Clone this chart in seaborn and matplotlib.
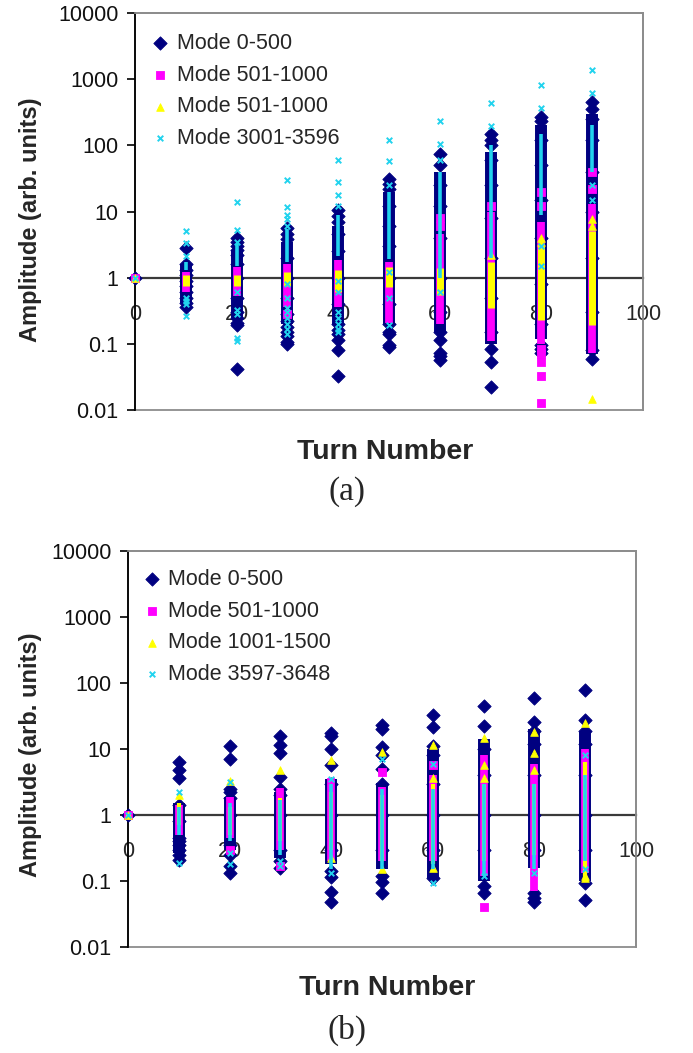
import matplotlib
matplotlib.use("Agg")
import matplotlib.pyplot as plt
import seaborn as sns
from matplotlib.patches import Rectangle
from matplotlib.ticker import NullLocator

sns.set_style("white")
plt.rcParams["font.family"] = ["Liberation Sans", "DejaVu Sans"]

# ---------------- data ----------------
turns = [0, 10, 20, 30, 40, 50, 60, 70, 80, 90]
x_ticks = [0, 20, 40, 60, 80, 100]
y_ticks = [0.01, 0.1, 1, 10, 100, 1000, 10000]
y_tick_labels = ["0.01", "0.1", "1", "10", "100", "1000", "10000"]

labels_a = ["Mode 0-500", "Mode 501-1000", "Mode 501-1000", "Mode 3001-3596"]
labels_b = ["Mode 0-500", "Mode 501-1000", "Mode 1001-1500", "Mode 3597-3648"]

# panel (a): dense ranges (lo/hi) and individually visible points per turn
a_navy_lo = [1, 0.42, 0.25, 0.2, 0.2, 0.2, 0.15, 0.1, 0.12, 0.07]
a_navy_hi = [1, 1.6, 2.6, 3.5, 6, 20, 40, 80, 200, 300]
a_navy_pts = [[1],
              [0.36, 0.42, 0.5, 0.6, 0.75, 0.9, 1.1, 1.3, 1.6, 2.85],
              [0.042, 0.19, 0.21, 0.25, 0.3, 0.5, 1.0, 1.6, 2.2, 2.6, 3.0, 3.5, 4.0],
              [0.1, 0.105, 0.13, 0.15, 0.18, 0.22, 0.28, 0.5, 1.0, 2.0, 3.8, 4.5, 5.7],
              [0.033, 0.081, 0.115, 0.14, 0.16, 0.2, 0.4, 1.0, 2.5, 4.5, 7, 8.5, 10.7],
              [0.09, 0.095, 0.14, 0.15, 0.2, 0.4, 1.0, 3.0, 6.0, 12, 22, 26, 31.5],
              [0.057, 0.065, 0.073, 0.115, 0.15, 0.3, 1.0, 4.0, 12, 25, 50, 73],
              [0.022, 0.053, 0.084, 0.15, 0.5, 2.0, 8.0, 25, 60, 100, 120, 146],
              [0.073, 0.085, 0.097, 0.2, 0.8, 4.0, 15, 50, 120, 230, 265],
              [0.059, 0.08, 0.3, 2.0, 10, 40, 120, 250, 350, 450]]

a_mag_lo = [1, 0.6, 0.52, 0.36, 0.36, 0.21, 0.2, 0.11, 0.1, 0.073]
a_mag_hi = [1, 1.2, 1.47, 1.6, 1.87, 1.7, 4.5, 10, 7, 13]
a_mag_pts = [[1], [], [], [0.28], [], [], [6, 8], [12],
             [0.0128, 0.033, 0.053, 0.07, 0.085, 12, 20], [22, 39]]

a_yel_lo = [1, 0.75, 0.75, 0.75, 0.6, 0.73, 0.55, 0.35, 0.23, 0.19]
a_yel_hi = [1, 1.1, 1.1, 1.2, 1.3, 1.47, 1.4, 1.7, 3, 5]
a_yel_pts = [[1], [], [], [], [], [], [], [2.2], [3.5, 4], [0.0147, 6, 7.6]]

a_cyan_lo = [1, 1.3, 1.5, 1.7, 2.1, 1.9, 1.0, 2.0, 9, 40]
a_cyan_hi = [1, 1.7, 3.2, 5.5, 9, 20, 40, 100, 150, 200]
a_cyan_pts = [[1],
              [0.26, 0.4, 0.45, 0.5, 2.1, 3.4, 5.0],
              [0.11, 0.123, 0.28, 0.32, 0.6, 3.5, 5.3, 13.7],
              [0.14, 0.17, 0.2, 0.25, 0.3, 0.35, 0.5, 0.8, 6, 7.6, 9, 11.9, 29.5],
              [0.15, 0.17, 0.2, 0.25, 0.3, 0.6, 0.9, 12.3, 17.5, 27.5, 61],
              [0.19, 0.5, 1.2, 25, 57, 119],
              [0.6, 60, 103, 231],
              [194, 433],
              [1.5, 3, 363, 811],
              [15, 25, 612, 1370]]

# panel (b)
b_navy_lo = [1, 0.27, 0.3, 0.22, 0.18, 0.15, 0.11, 0.1, 0.16, 0.1]
b_navy_hi = [1, 1.5, 1.9, 2.2, 3.5, 3.1, 10, 14, 20, 18]
b_navy_pts = [[1],
              [0.21, 0.25, 0.3, 0.35, 0.4, 0.45, 0.8, 1.4, 3.6, 4.8, 6.4],
              [0.13, 0.17, 0.25, 0.35, 1.0, 1.8, 2.2, 2.5, 7, 11],
              [0.16, 0.2, 0.3, 1.0, 2.0, 2.5, 3.8, 8.7, 11.5, 15.7],
              [0.048, 0.068, 0.115, 0.14, 0.3, 1.0, 3.0, 5.8, 10, 16, 17.5],
              [0.066, 0.096, 0.12, 0.3, 1.0, 3.0, 5, 8.1, 10.7, 20, 23],
              [0.11, 0.3, 1.0, 3.0, 8, 11, 21.6, 32.7],
              [0.066, 0.085, 0.3, 1.0, 4.0, 10, 22, 45],
              [0.048, 0.055, 0.066, 0.3, 1.0, 4.0, 12, 19, 25.6, 59],
              [0.052, 0.093, 0.3, 1.0, 4.0, 12, 19, 27.5, 78]]

b_mag_lo = [1, 0.5, 0.45, 0.3, 0.2, 0.2, 0.2, 0.12, 0.07, 0.13]
b_mag_hi = [1, 1.4, 1.9, 2.6, 3.6, 2.7, 4, 8, 6, 10]
b_mag_pts = [[1], [], [0.3], [0.17], [], [4.5], [5.7], [0.04], [], []]

b_yel_lo = [1, 0.7, 0.5, 0.4, 0.3, 0.2, 0.18, 0.2, 0.25, 0.11]
b_yel_hi = [1, 1.5, 1.3, 1.8, 2.2, 2, 3, 3, 3, 6.4]
b_yel_pts = [[1], [2.0], [3.3], [4.8], [0.22, 6.8], [0.15, 9], [0.16, 3.6, 11.5],
             [3.6, 5.7, 14.6], [4.8, 8.7, 18], [0.11, 0.12, 24.8]]

b_cyan_lo = [1, 0.5, 0.4, 0.25, 0.15, 0.15, 0.15, 0.12, 0.15, 0.2]
b_cyan_hi = [1, 1.3, 1.5, 1.7, 3, 2.5, 2.5, 3, 3, 4]
b_cyan_pts = [[1], [0.19, 2.2], [0.18, 0.27, 3.2], [0.17, 0.2], [0.13, 3.5], [7],
              [0.094, 6], [0.12], [0.13], [0.15, 8]]

# ---------------- styling ----------------
NAVY, MAG, YEL, CYAN = "#000080", "#FF00FF", "#FFFF00", "#22D3EE"
FS = 15.5


def flat(pts):
    xs = [t for t, p in zip(turns, pts) for _ in p]
    ys = [v for p in pts for v in p]
    return xs, ys


def draw_panel(ax, series, labels, leg_anchor, yel_band_w):
    styles = [
        dict(color=NAVY, marker="D", s=46, band=8.6),
        dict(color=MAG, marker="s", s=36, band=5.6),
        dict(color=YEL, marker="^", s=30, band=yel_band_w),
        dict(color=CYAN, marker="x", s=16, band=2.6),
    ]
    for i, ((lo, hi, pts), st, lab) in enumerate(zip(series, styles, labels)):
        z = 3 + 2 * i
        ax.vlines(turns, lo, hi, colors=st["color"], linewidth=st["band"], zorder=z)
        xs, ys = flat(pts)
        if st["marker"] == "x":
            sns.scatterplot(x=xs, y=ys, ax=ax, marker="x", s=st["s"], color=st["color"],
                            linewidth=1.4, label=lab, zorder=z + 1, clip_on=False)
        else:
            sns.scatterplot(x=xs, y=ys, ax=ax, marker=st["marker"], s=st["s"],
                            color=st["color"], edgecolor=st["color"], linewidth=0.6,
                            label=lab, zorder=z + 1, clip_on=False)
    ax.set_yscale("log")
    ax.set_xlim(0, 100)
    ax.set_ylim(0.01, 10000)
    ax.set_yticks(y_ticks)
    ax.set_yticklabels(y_tick_labels)
    ax.yaxis.set_minor_locator(NullLocator())
    ax.set_xticks(x_ticks)
    ax.set_xticklabels([str(v) for v in x_ticks])
    ax.tick_params(axis="x", length=0, pad=19, labelsize=FS, bottom=False)
    ax.tick_params(axis="y", length=6, width=1.2, pad=6, labelsize=FS, left=True,
                   direction="out", color="black")
    for lab in ax.get_xticklabels() + ax.get_yticklabels():
        lab.set_color("#111111")
    ax.set_xlabel("")
    ax.set_ylabel("")
    ax.spines["bottom"].set_position(("data", 1))
    ax.spines["bottom"].set_color("#3a3a3a")
    ax.spines["bottom"].set_linewidth(1.6)
    ax.spines["bottom"].set_zorder(2)
    ax.spines["left"].set_color("black")
    ax.spines["left"].set_linewidth(1.3)
    for s in ("top", "right"):
        ax.spines[s].set_color("#8c8c8c")
        ax.spines[s].set_linewidth(1.3)
    ax.add_patch(Rectangle((0, 0), 1, 1, transform=ax.transAxes, fill=False,
                           edgecolor="#8c8c8c", linewidth=1.3, zorder=0.5, clip_on=False))
    ax.legend(loc="upper left", bbox_to_anchor=leg_anchor, frameon=False, fontsize=FS,
              handletextpad=0.35, labelspacing=0.5, borderaxespad=0, borderpad=0,
              handlelength=0.8)


fig = plt.figure(figsize=(6.93, 10.53), dpi=100)
fig.patch.set_facecolor("white")
ax_a = fig.add_axes([135 / 693, 1 - 410 / 1053, 508 / 693, 397 / 1053])
ax_b = fig.add_axes([128 / 693, 1 - 947 / 1053, 508 / 693, 396 / 1053])

draw_panel(ax_a,
           [(a_navy_lo, a_navy_hi, a_navy_pts), (a_mag_lo, a_mag_hi, a_mag_pts),
            (a_yel_lo, a_yel_hi, a_yel_pts), (a_cyan_lo, a_cyan_hi, a_cyan_pts)],
           labels_a, (0.033, 0.95), 5.0)
draw_panel(ax_b,
           [(b_navy_lo, b_navy_hi, b_navy_pts), (b_mag_lo, b_mag_hi, b_mag_pts),
            (b_yel_lo, b_yel_hi, b_yel_pts), (b_cyan_lo, b_cyan_hi, b_cyan_pts)],
           labels_b, (0.03, 0.955), 3.0)

for yc in (220, 755):
    fig.text(31 / 693, 1 - yc / 1053, "Amplitude (arb. units)", rotation=90,
             ha="center", va="center", fontsize=17, fontweight="bold")
fig.text(385 / 693, 1 - 452 / 1053, "Turn Number", ha="center", va="center",
         fontsize=20.5, fontweight="bold")
fig.text(387 / 693, 1 - 988 / 1053, "Turn Number", ha="center", va="center",
         fontsize=20.5, fontweight="bold")
fig.text(347 / 693, 1 - 492 / 1053, "(a)", ha="center", va="center", fontsize=24,
         family=["Liberation Serif", "DejaVu Serif"])
fig.text(347 / 693, 1 - 1030 / 1053, "(b)", ha="center", va="center", fontsize=24,
         family=["Liberation Serif", "DejaVu Serif"])

fig.savefig("out.png", dpi=100, facecolor="white")
